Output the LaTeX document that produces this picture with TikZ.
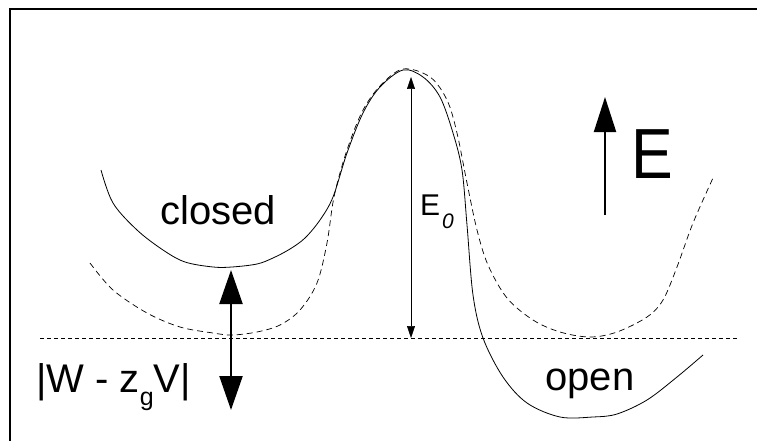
\documentclass[tikz,border=0pt]{standalone}
\usepackage{fontspec}
\setmainfont{Liberation Sans}
\usetikzlibrary{arrows.meta}

\begin{document}
\begin{tikzpicture}[x=1pt, y=-1pt,
	well/.style={line width=0.8pt},
	shifted/.style={line width=0.7pt, dash pattern=on 6pt off 4pt},
	zeroline/.style={line width=0.7pt, dash pattern=on 4pt off 3pt},
	lbl/.style={inner sep=0pt, anchor=base}]
	\useasboundingbox (0,0) rectangle (757,441);
	% frame
	\draw[line width=2pt] (10,441) -- (10,9) -- (757,9);

	% potential at zero voltage
	\draw[well] plot[smooth, tension=0.55] coordinates {
		(101,170) (113,203) (137,230) (163,250) (185,262) (213,267) (232,267)
		(257,264) (273,258) (290,249) (305,238) (320,220) (333,197) (347,153)
		(363,113) (380,87) (403,70) (423,77) (440,97) (453,133) (462,170)
		(467,225) (473,295) (483,338) (503,377) (527,403) (560,417) (593,417)
		(617,414) (647,400) (677,377) (703,355)};
	% shifted potential
	\draw[shifted] plot[smooth, tension=0.55] coordinates {
		(90,263) (113,290) (147,313) (180,327) (213,333) (232,335) (257,332)
		(280,325) (300,310) (317,283) (327,243) (334,197) (346,153) (362,112)
		(380,86) (403,69) (430,77) (447,100) (457,133) (467,183) (477,230)
		(488,265) (507,298) (533,320) (560,332) (590,337) (617,332) (647,317)
		(663,300) (677,267) (693,223) (713,178)};
	% reference level
	\coordinate (zl) at (40,338);
	\coordinate (zr) at (737,338);
	\draw[zeroline] (zl) -- (zr);

	% arrows
	\coordinate (gaptop) at (231,270);
	\coordinate (gapbot) at (231,410);
	\draw[line width=2.2pt, {Triangle[length=34pt, width=23pt]}-{Triangle[length=34pt, width=23pt]}]
		(gaptop) -- (gapbot);
	\coordinate (bartop) at (411,77);
	\coordinate (barbot) at (411,338);
	\draw[line width=0.5pt, {Triangle[length=12pt, width=8pt]}-{Triangle[length=12pt, width=8pt]}]
		(bartop) -- (barbot);
	\coordinate (etail) at (605,215);
	\coordinate (etip) at (605,97);
	\draw[line width=2pt, -{Triangle[length=35pt, width=22pt]}] (etail) -- (etip);

	% labels
	\node[lbl, font=\fontsize{40}{40}\selectfont] (closedlbl) at (218,224) {closed};
	\node[lbl, font=\fontsize{40}{40}\selectfont] (openlbl) at (590,390) {open};
	\node[lbl, anchor=base west, font=\fontsize{40}{40}\selectfont] (gaplbl) at (36,392)
		{|W - z\raisebox{-13pt}{\fontsize{25}{25}\selectfont g}V|};
	\node[lbl, anchor=base west, font=\fontsize{30}{30}\selectfont] (barlbl) at (420,215) {E};
	\node[lbl, anchor=base west, font=\fontsize{21}{21}\selectfont\itshape] (barsub) at (442,228) {0};
	\node[lbl, anchor=base west, font=\fontsize{71}{71}\selectfont] (energylbl) at (631,178)
		{\scalebox{0.88}[1]{E}};
\end{tikzpicture}
\end{document}
